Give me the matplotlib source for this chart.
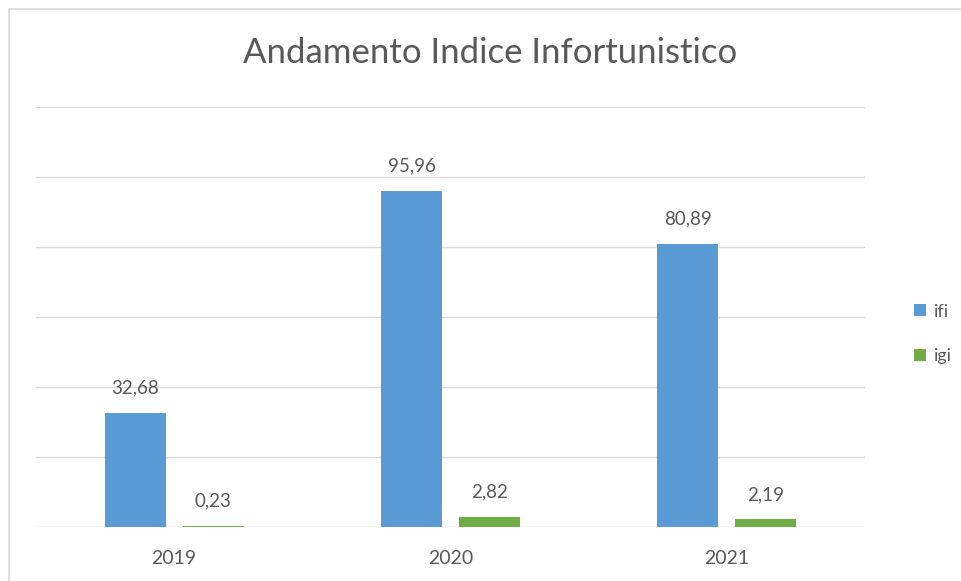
import numpy as np
import matplotlib
matplotlib.use("Agg")
import matplotlib.pyplot as plt
from matplotlib.patches import Rectangle

# chart data
years = ["2019", "2020", "2021"]
ifi = [32.68, 95.96, 80.89]
igi = [0.23, 2.82, 2.19]
series_names = ["ifi", "igi"]

BLUE = "#5B9BD5"
GREEN = "#70AD47"
TEXT = "#595959"
GRID = "#D9D9D9"

plt.rcParams["font.family"] = ["Lato", "DejaVu Sans"]

fig = plt.figure(figsize=(9.62, 5.81), dpi=100)
W, H = 962, 581

# chart area border (cropped at right and bottom in the reference)
fig.patches.append(
    Rectangle((8.5 / W, -0.5), 2, 1.5 - 8.5 / H, transform=fig.transFigure,
              fill=False, edgecolor="#D9D9D9", linewidth=1.2)
)

ax = fig.add_axes([36 / W, (H - 527) / H, (865 - 36) / W, (527 - 107) / H])

x = np.arange(len(years))
bw = 0.221
gap = 0.0615
off = bw / 2 + gap / 2

b1 = ax.bar(x - off, ifi, bw, color=BLUE, label=series_names[0], zorder=3)
b2 = ax.bar(x + off, igi, bw, color=GREEN, label=series_names[1], zorder=3)

for bars, vals in ((b1, ifi), (b2, igi)):
    for rect, v in zip(bars, vals):
        ax.annotate(f"{v:.2f}".replace(".", ","),
                    (rect.get_x() + rect.get_width() / 2, rect.get_height()),
                    xytext=(0, 14), textcoords="offset points",
                    ha="center", va="baseline", fontsize=13.5, color=TEXT)

ax.set_xlim(-0.5, 2.5)
ax.set_ylim(0, 120)
ax.set_yticks(np.arange(0, 121, 20))
ax.yaxis.grid(True, color=GRID, linewidth=1)
ax.set_axisbelow(True)
ax.tick_params(axis="y", left=False, labelleft=False)
ax.tick_params(axis="x", bottom=False, labelsize=14, labelcolor=TEXT, pad=13)
ax.set_xticks(x)
ax.set_xticklabels(years)
for s in ax.spines.values():
    s.set_visible(False)

fig.text(490 / W, 1 - 53 / H, "Andamento Indice Infortunistico",
         ha="center", va="center", fontsize=25, color=TEXT)

fig.legend(handles=[b1, b2], loc="center left",
           bbox_to_anchor=(898 / W, 1 - 334 / H), frameon=False,
           handlelength=0.65, handleheight=0.65, handletextpad=0.45,
           labelspacing=1.6, fontsize=13, labelcolor=TEXT)

fig.savefig("out.png", dpi=100, facecolor="white")
